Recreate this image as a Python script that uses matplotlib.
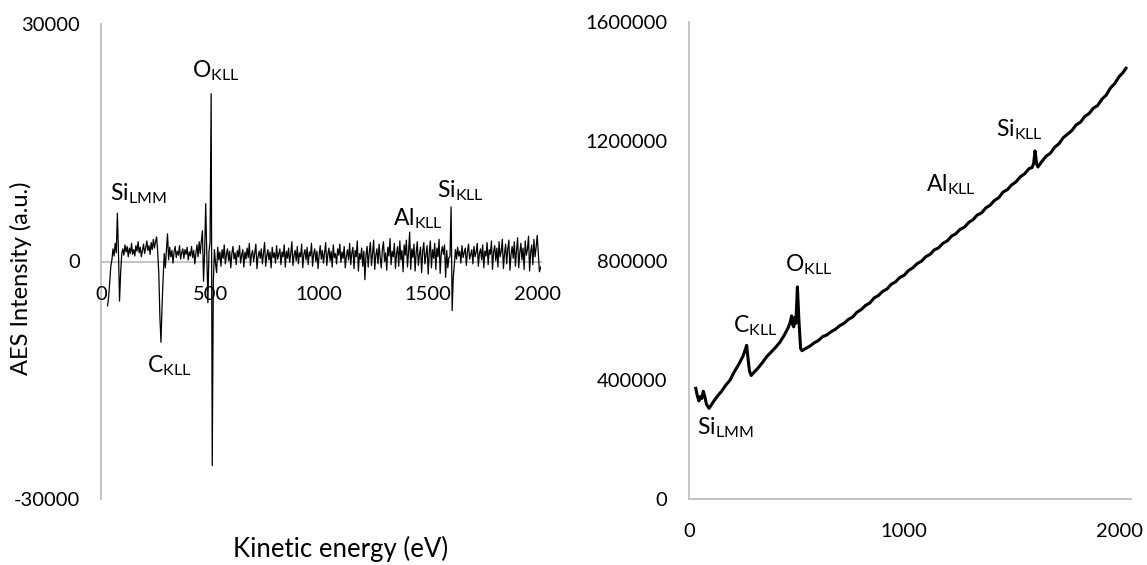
import numpy as np
import matplotlib
matplotlib.use("Agg")
import matplotlib.pyplot as plt
from matplotlib.ticker import FuncFormatter

plt.rcParams['font.family'] = ['Lato', 'DejaVu Sans']
plt.rcParams['mathtext.fontset'] = 'custom'
plt.rcParams['mathtext.rm'] = 'Lato'
plt.rcParams['mathtext.it'] = 'Lato'
plt.rcParams['mathtext.bf'] = 'Lato'
plt.rcParams['axes.unicode_minus'] = False

# ---------------- data: derivative AES spectrum (left) ----------------
deriv_start_ev = 30
deriv_step_ev = 5
deriv_values = [
    # 30-100 eV (Si LMM)
    -5600, -4500, -2500, -600, 200, 1600, 700, 2300, 1100, 6100, 1200, -5000, -1400, 900, 1600,
    # 105-245 eV
    800, 2100, 1200, 1900, 600, 1700, 1000, 2300, 900, 1500, 700, 2000, 1300, 2500, 1100,
    1800, 600, 1400, 2200, 1000, 1700, 2600, 1400, 2000, 900, 2400, 1500, 2800, 1700,
    # 250-310 eV (C KLL)
    2500, 3100, 1200, -1500, -7000, -10200, -5500, -2000, 1000, -800, 1500, 3500, 200,
    # 315-455 eV
    1800, 600, 1400, -200, 1200, 1900, 500, 1300, 800, 2000, 300, 1100, 1600, 400, 1500,
    900, 1800, 200, 1200, 700, 1900, 500, 1400, -300, 1000, 2100, 600, 2500, 1000,
    # 460-530 eV (O KLL)
    2600, 3900, -2500, 1000, 7300, 800, -5200, 1200, 2500, 21200, -25800, -2500, 1500, -200, -1400,
    # 535-2030 eV
    1800, 200, 1200, -600, 1500, 400, 2100, -300, 900, 1600, 100, 1300, -800, 1000, 1900, 300, 1100, -400, 1400, 600,
    2000, -200, 800, 1500, -700, 1200, 300, 1700, 500, 2300, -500, 900, 1400, 0, 1100, 2200, -900, 600, 1300, 400,
    1600, -300, 1000, 2400, -600, 700, 1500, 200, 1200, -800, 1800, 500, 1100, -200, 2000, 300, 900, 1600, -400, 1200,
    600, 2100, -700, 1300, 400, 1700, -100, 1000, 2500, -500, 800, 1400, 100, 1900, -300, 1100, 600, 2200, -800, 900,
    1500, 200, 1800, -400, 1200, 700, 2300, -600, 1000, 1600, 0, 1300, -900, 800, 2000, 300, 1400, -200, 1100, 2400,
    -500, 900, 1700, 100, 1300, -700, 2100, 500, 1000, -300, 1600, 800, 2200, -100, 1200, 400, 1900, -800, 700, 1500,
    200, 2300, -400, 1100, 1800, -900, 1400, 600, 2600, -1200, 1000, 300, 1700, -600, 1300, -2300, 900, 1900, -700, 1200,
    2400, -500, 1000, 2700, -1000, 800, 1600, -300, 2200, 500, -800, 1500, 2500, 0, 1100, -1100, 1800, 700, 2900, -400,
    1300, 600, 2300, -900, 1000, 1900, -600, 2600, 200, 1400, -1300, 2100, 800, 2700, -700, 1200, 3700, -1000, 1600, 500,
    2200, -1200, 1100, 2500, -500, 900, 1800, -1400, 1300, 2400, -300, 800, 2000, -1600, 1200, 2600, -800, 1500, 400, 2300,
    -1000, 1700, 600, 2800, -1500, 1100, 1900, 900, 2100, -2000, 1400, -800, 500, 600, 6900, -6200, -2000, -400, 1500, 300,
    1800, 700, 1300, -200, 2000, 500, 1100, 1700, -500, 1200, 2200, 300, 900, 1500, -300, 1900, 600, 1200, 2300, -600,
    1000, 1600, 200, 2100, -800, 1300, 700, 2400, -400, 1500, 900, 2600, -1000, 1200, 2000, 100, 1700, -700, 2500, 600,
    1300, 2800, -900, 1000, 2200, -300, 1600, 2700, -1100, 900, 1900, 400, 2500, -600, 1400, 3000, -800, 1100, 2300, 200,
    1700, -1000, 2600, 800, 1500, 3200, -1200, 1200, 2100, -400, 2800, 600, 1800, 3300, 1000, -1300, -800, -500, 2900, 1500,
]
deriv_energy = deriv_start_ev + deriv_step_ev * np.arange(len(deriv_values))

# ---------------- data: direct N(E) spectrum (right) ----------------
ne_energy = [30, 38, 45, 52, 58, 65, 72, 80, 92, 110, 130, 150, 170, 190, 210, 230, 250, 262, 267,
             272, 280, 288, 300, 320, 340, 360, 380, 400, 420, 440, 460, 470, 476, 481, 486, 491,
             496, 503, 510, 518, 525, 540, 560, 580, 600, 620, 640, 660, 680, 700, 720, 740, 760,
             780, 800, 820, 840, 860, 880, 900, 920, 940, 960, 980, 1000, 1020, 1040, 1060, 1080,
             1100, 1120, 1140, 1160, 1180, 1200, 1220, 1240, 1260, 1280, 1300, 1320, 1340, 1360,
             1380, 1400, 1420, 1440, 1460, 1480, 1500, 1520, 1540, 1560, 1580, 1595, 1602, 1609,
             1616, 1622, 1640, 1660, 1680, 1700, 1720, 1740, 1760, 1780, 1800, 1820, 1840, 1860,
             1880, 1900, 1920, 1940, 1960, 1980, 2000, 2015, 2032]
ne_values = [372000, 345000, 330000, 345000, 338000, 362000, 345000, 318000, 305000, 325000, 345000,
             362000, 383000, 400000, 428000, 452000, 480000, 505000, 516000, 480000, 430000, 415000,
             425000, 440000, 458000, 478000, 493000, 508000, 525000, 548000, 575000, 595000, 615000,
             585000, 578000, 610000, 590000, 712000, 600000, 505000, 498000, 505000, 513000, 524000,
             532000, 545000, 551000, 562000, 570000, 582000, 590000, 603000, 611000, 627000, 636000,
             650000, 658000, 675000, 683000, 697000, 705000, 721000, 729000, 744000, 751000, 767000,
             776000, 790000, 798000, 813000, 821000, 836000, 843000, 858000, 866000, 882000, 890000,
             905000, 912000, 928000, 937000, 953000, 960000, 977000, 986000, 1002000, 1011000,
             1030000, 1038000, 1054000, 1064000, 1081000, 1091000, 1108000, 1112000, 1125000,
             1168000, 1125000, 1114000, 1132000, 1150000, 1160000, 1180000, 1192000, 1212000,
             1224000, 1236000, 1255000, 1264000, 1283000, 1293000, 1311000, 1320000, 1341000,
             1355000, 1379000, 1394000, 1417000, 1428000, 1445000]

# ---------------- labels ----------------
left_xticks = [0, 500, 1000, 1500, 2000]
left_yticks = [-30000, 0, 30000]
right_xticks = [0, 1000, 2000]
right_yticks = [0, 400000, 800000, 1200000, 1600000]

left_peak_labels = [r'Si$_{\mathrm{LMM}}$', r'C$_{\mathrm{KLL}}$', r'O$_{\mathrm{KLL}}$',
                    r'Al$_{\mathrm{KLL}}$', r'Si$_{\mathrm{KLL}}$']
left_label_x = [41, 211, 417, 1339, 1541]
left_label_y = [7770, -13950, 23300, 4600, 8150]

right_peak_labels = [r'Si$_{\mathrm{KLL}}$', r'Al$_{\mathrm{KLL}}$', r'O$_{\mathrm{KLL}}$',
                     r'C$_{\mathrm{KLL}}$', r'Si$_{\mathrm{LMM}}$']
right_label_x = [1427, 1101, 445, 204, 36]
right_label_y = [1218000, 1031000, 763000, 561000, 219000]

y_label = 'AES Intensity (a.u.)'
x_label = 'Kinetic energy (eV)'

# ---------------- figure ----------------
W, H = 1147, 565
fig = plt.figure(figsize=(W / 100, H / 100), dpi=100)
spine_col = '#BFBFBF'
tick_fs = 14.5
ann_fs = 16.5
plain = FuncFormatter(lambda v, p: '%d' % v)

def px_axes(x0, x1, y_top, y_bot):
    return fig.add_axes([x0 / W, 1 - y_bot / H, (x1 - x0) / W, (y_bot - y_top) / H])

# left axes
ax1 = px_axes(101, 540.5, 24, 499)
ax1.plot(deriv_energy, deriv_values, color='black', lw=0.9)
ax1.set_xlim(0, 2015)
ax1.set_ylim(-30000, 30000)
ax1.set_xticks(left_xticks)
ax1.set_yticks(left_yticks)
ax1.xaxis.set_major_formatter(plain)
ax1.yaxis.set_major_formatter(plain)
for s in ['top', 'right']:
    ax1.spines[s].set_visible(False)
ax1.spines['bottom'].set_position(('data', 0))
for s in ['bottom', 'left']:
    ax1.spines[s].set_color(spine_col)
    ax1.spines[s].set_linewidth(1.3)
    ax1.spines[s].set_zorder(0)
ax1.tick_params(axis='x', length=0, pad=18, labelsize=tick_fs)
ax1.tick_params(axis='y', length=0, pad=15, labelsize=tick_fs)
for t, xv, yv in zip(left_peak_labels, left_label_x, left_label_y):
    ax1.text(xv, yv, t, fontsize=ann_fs, ha='left', va='baseline')

# right axes
ax2 = px_axes(689.3, 1130.5, 22, 499.3)
ax2.plot(ne_energy, ne_values, color='black', lw=2.2)
ax2.set_xlim(0, 2053)
ax2.set_ylim(0, 1600000)
ax2.set_xticks(right_xticks)
ax2.set_yticks(right_yticks)
ax2.xaxis.set_major_formatter(plain)
ax2.yaxis.set_major_formatter(plain)
for s in ['top', 'right']:
    ax2.spines[s].set_visible(False)
for s in ['bottom', 'left']:
    ax2.spines[s].set_color(spine_col)
    ax2.spines[s].set_linewidth(1.3)
ax2.tick_params(axis='x', length=0, pad=17, labelsize=tick_fs)
ax2.tick_params(axis='y', length=0, pad=16, labelsize=tick_fs)
for t, xv, yv in zip(right_peak_labels, right_label_x, right_label_y):
    ax2.text(xv, yv, t, fontsize=ann_fs, ha='left', va='baseline')

fig.text(21 / W, 1 - 278 / H, y_label, rotation=90, ha='center', va='center', fontsize=17)
fig.text(341 / W, 1 - 549 / H, x_label, ha='center', va='center', fontsize=18.5)

fig.savefig('out.png', dpi=100)
